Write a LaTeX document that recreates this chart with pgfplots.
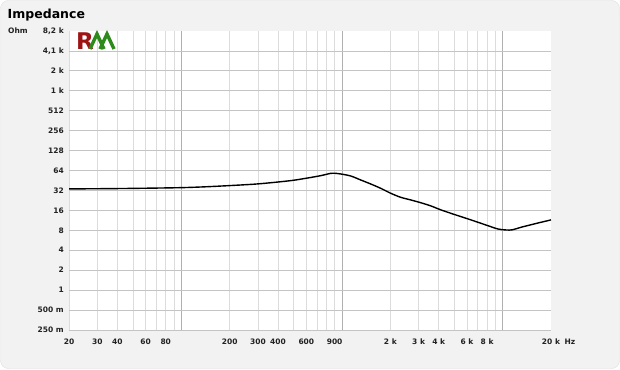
\documentclass[border=0pt]{standalone}
\usepackage{fontspec}
\setmainfont{DejaVu Sans}
\usepackage{pgfplots}
\pgfplotsset{compat=1.18}
\definecolor{bg}{HTML}{F2F2F2}
\definecolor{majgrid}{HTML}{B0B0B0}
\definecolor{ygrid}{HTML}{C4C4C4}
\definecolor{mingrid}{HTML}{DCDCDC}
\definecolor{logored}{HTML}{9E1414}
\definecolor{logogreen}{HTML}{2F8A1C}
\definecolor{txt}{HTML}{222222}
\newcommand\labA{4,1 k}
\newcommand\labB{8,2 k}
\begin{document}
\begin{tikzpicture}[x=1pt,y=1pt]
\fill[white] (0,0) rectangle (620,369);
\draw[fill=bg, draw=black!12, rounded corners=8pt] (0.5,0.5) rectangle (619.5,368.5);
\node[anchor=base west, inner sep=0pt, font=\bfseries\fontsize{12.5}{14}\selectfont, text=black] at (7.5,350.5) {Impedance};
\node[anchor=base west, inner sep=0pt, font=\bfseries\fontsize{7.5}{9}\selectfont, text=txt] at (8,335) {Ohm};
\begin{axis}[
  at={(69pt,39pt)}, anchor=south west, scale only axis,
  width=482pt, height=299pt,
  xmode=log, ymode=log, log basis y=2,
  xmin=20, xmax=20000, ymin=0.25, ymax=8192,
  axis background/.style={fill=white},
  axis line style={draw=none},
  major tick length=0pt, minor tick length=0pt,
  tick style={draw=none},
  xtick={100,1000,10000}, xticklabels={,,},
  minor xtick={20,30,40,50,60,70,80,90,200,300,400,500,600,700,800,900,2000,3000,4000,5000,6000,7000,8000,9000},
  xmajorgrids, xminorgrids,
  major x grid style={majgrid, line width=0.8pt},
  minor x grid style={mingrid, line width=0.8pt},
  extra x ticks={20,30,40,60,80,200,300,400,600,900,2000,3000,4000,6000,8000,20000},
  extra x tick labels={20,30,40,60,80,200,300,400,600,900,2 k,3 k,4 k,6 k,8 k,20 k},
  extra x tick style={grid=none},
  ytick={0.25,0.5,1,2,4,8,16,32,64,128,256,512,1024,2048,4096},
  yticklabels={250 m,500 m,1,2,4,8,16,32,64,128,256,512,1 k,2 k,\labA},
  extra y ticks={8192}, extra y tick labels={\labB},
  extra y tick style={grid=none},
  ymajorgrids,
  major y grid style={ygrid, line width=0.8pt},
  ticklabel style={font=\bfseries\fontsize{7.5}{9}\selectfont, text=txt, inner sep=0pt},
  xticklabel style={anchor=center, yshift=-12pt},
  yticklabel style={anchor=east, xshift=-5pt},
  clip=true,
]
\addplot[black, line width=1.4pt, smooth] coordinates {
(20,33.8) (30,34.0) (50,34.4) (100,35.3) (150,36.6) (233,38.7) (311,40.5)
(478,45) (600,49) (736,53.5) (850,58.0) (920,58.0) (981,56.8) (1132,53.0)
(1307,46.1) (1509,40.1) (1742,34.5) (2012,29.0) (2323,25.2) (2681,23.0)
(3094,20.9) (3573,18.7) (4125,16.3) (5000,13.9) (6350,11.5) (8000,9.5)
(9320,8.4) (10500,8.1) (11500,8.15) (13020,8.9) (16000,10.1) (20000,11.5)
};
\end{axis}
\node[anchor=center, inner sep=0pt, font=\bfseries\fontsize{7.5}{9}\selectfont, text=txt] at (570,27) {Hz};
% logo
\node[anchor=base west, inner sep=0pt, font=\bfseries\fontsize{23}{24}\selectfont, text=logored] at (76,319) {R};
\draw[logogreen, line width=3.4pt, line join=miter] (90,320) -- (97,335) -- (104,320);
\draw[logogreen, line width=3.4pt, line join=miter] (100,320) -- (107,335) -- (114,320);
\end{tikzpicture}
\end{document}
